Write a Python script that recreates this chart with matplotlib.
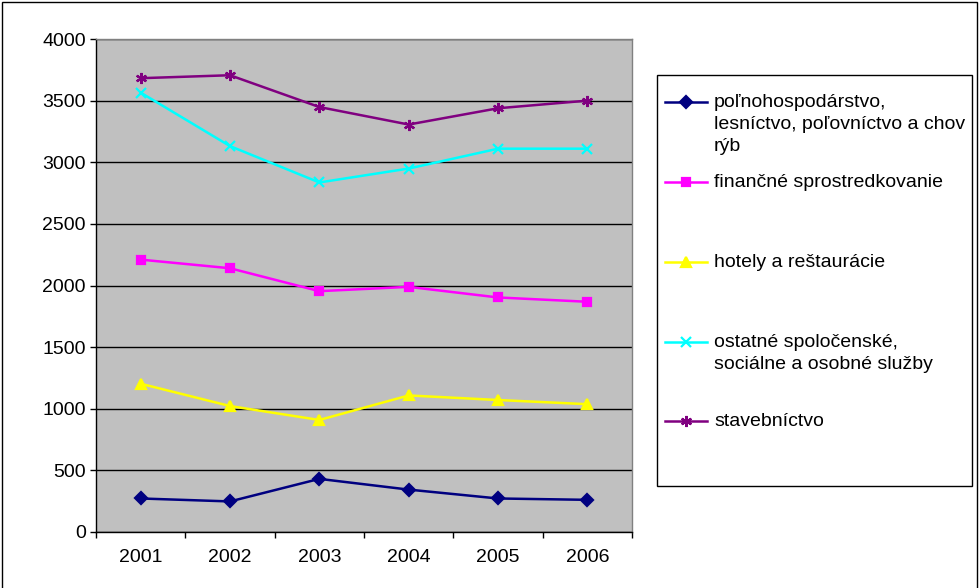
import matplotlib
matplotlib.use("Agg")
import matplotlib.pyplot as plt
from matplotlib.lines import Line2D
from matplotlib.patches import Rectangle
import numpy as np

plt.rcParams['font.family'] = ['Liberation Sans', 'DejaVu Sans']

years = ["2001", "2002", "2003", "2004", "2005", "2006"]
polnohosp = [272, 248, 431, 344, 272, 261]
financne = [2210, 2140, 1954, 1989, 1903, 1868]
hotely = [1203, 1022, 909, 1108, 1071, 1037]
ostatne = [3565, 3131, 2836, 2949, 3110, 3110]
stavebnictvo = [3682, 3706, 3448, 3306, 3438, 3500]

labels = ["poľnohospodárstvo,\nlesníctvo, poľovníctvo a chov\nrýb",
          "finančné sprostredkovanie",
          "hotely a reštaurácie",
          "ostatné spoločenské,\nsociálne a osobné služby",
          "stavebníctvo"]
series = [polnohosp, financne, hotely, ostatne, stavebnictvo]
colors = ["#000080", "#FF00FF", "#FFFF00", "#00FFFF", "#800080"]
markers = ["D", "s", "^", "x", (6, 2, 0)]
msizes = [6, 6, 7, 7, 8]

W, H = 980, 588
fig = plt.figure(figsize=(W / 100, H / 100), dpi=100)
fig.patch.set_facecolor("white")

def fx(px):
    return px / W

def fy(py):
    return 1 - py / H

ax = fig.add_axes([fx(96), fy(532), fx(632) - fx(96), fy(39) - fy(532)])
ax.set_facecolor("#C0C0C0")
x = np.arange(len(years))
for vals, c, m, ms in zip(series, colors, markers, msizes):
    ax.plot(x, vals, color=c, lw=1.8, marker=m, markersize=ms,
            markeredgecolor=c, markerfacecolor=c, markeredgewidth=1.6, zorder=3)

ax.set_xlim(-0.5, len(years) - 0.5)
ax.set_ylim(0, 4000)
ax.set_yticks(np.arange(0, 4001, 500))
ax.yaxis.grid(True, color="black", lw=1)
ax.set_axisbelow(True)
ax.set_xticks(x)
ax.set_xticklabels(years)
ax.set_xticks(np.arange(-0.5, len(years)), minor=True)
ax.tick_params(axis="x", which="major", length=0, pad=12, labelsize=14)
ax.tick_params(axis="x", which="minor", length=4.3, width=1, color="black")
ax.tick_params(axis="y", length=4.3, width=1, pad=3, labelsize=14)
for s in ["top", "right"]:
    ax.spines[s].set_color("#808080")
for s in ["left", "bottom"]:
    ax.spines[s].set_color("black")
for s in ax.spines.values():
    s.set_linewidth(1)

# legend box
fig.add_artist(Rectangle((fx(657), fy(486)), fx(972) - fx(657), fy(75) - fy(486),
                         transform=fig.transFigure, facecolor="white",
                         edgecolor="black", lw=1))
entry_y = [102, 182, 262, 342, 421]
for lab, c, m, ms, ey in zip(labels, colors, markers, msizes, entry_y):
    fig.add_artist(Line2D([fx(665), fx(707)], [fy(ey), fy(ey)], color=c, lw=1.8,
                          transform=fig.transFigure))
    fig.add_artist(Line2D([fx(686)], [fy(ey)], color=c, marker=m, markersize=ms,
                          markerfacecolor=c, markeredgecolor=c, markeredgewidth=1.6,
                          transform=fig.transFigure))
    fig.text(fx(714), fy(ey - 8), lab, fontsize=14, va="top", ha="left",
             linespacing=1.38)

# outer border
fig.add_artist(Rectangle((fx(2), fy(600)), fx(977) - fx(2), fy(2) - fy(600),
                         transform=fig.transFigure, fill=False,
                         edgecolor="black", lw=1))

fig.savefig("out.png", dpi=100)
